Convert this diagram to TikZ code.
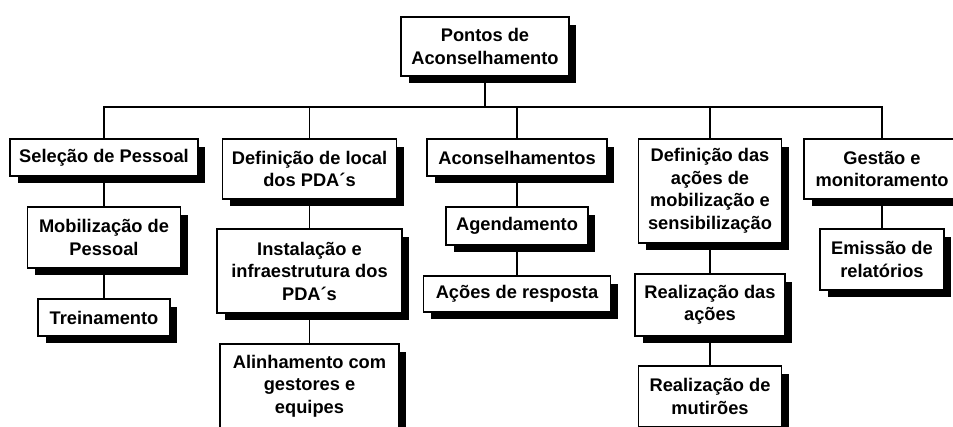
\documentclass[tikz,border=0pt]{standalone}
\usepackage{fontspec}
\setmainfont{Liberation Sans}
\usepackage{tikz}
\usetikzlibrary{shadows}

\begin{document}
\begin{tikzpicture}[x=0.02cm,y=-0.02cm,
  box/.style={rectangle,draw=black,line width=0.7pt,fill=white,align=center,inner sep=1pt,
    font=\bfseries\fontsize{10.4}{12.8}\selectfont,
    drop shadow={shadow xshift=0.15cm,shadow yshift=-0.15cm,fill=black,opacity=1}},
  link/.style={draw=black,line width=0.7pt}]
\clip (0,0) rectangle (953,426);
\node at (485,46.5)[box,minimum width=3.36cm,minimum height=1.18cm](root){Pontos de\\Aconselhamento};
% first level
\node at (104,157.5)[box,minimum width=3.76cm,minimum height=0.74cm](sel){Seleção de Pessoal};
\node at (309.5,169)[box,minimum width=3.48cm,minimum height=1.2cm](def){Definição de local\\dos PDA´s};
\node at (517,157.5)[box,minimum width=3.6cm,minimum height=0.74cm](acon){Aconselhamentos};
\node at (710,191)[box,minimum width=2.86cm,minimum height=2.08cm](defa){Definição das\\ações de\\mobilização e\\sensibilização};
\node at (882,169)[box,minimum width=3.12cm,minimum height=1.2cm](gest){Gestão e\\monitoramento};
% second and third level
\node at (104,237.5)[box,minimum width=3.06cm,minimum height=1.22cm](mob){Mobilização de\\Pessoal};
\node at (104,317.5)[box,minimum width=2.64cm,minimum height=0.74cm](trei){Treinamento};
\node at (309.5,271)[box,minimum width=3.7cm,minimum height=1.68cm](inst){Instalação e\\infraestrutura dos\\PDA´s};
\node at (309.5,386)[box,minimum width=3.58cm,minimum height=1.68cm](alin){Alinhamento com\\gestores e\\equipes};
\node at (517,226)[box,minimum width=2.84cm,minimum height=0.76cm](agen){Agendamento};
\node at (517,294)[box,minimum width=3.74cm,minimum height=0.72cm](resp){Ações de resposta};
\node at (710,305)[box,minimum width=3cm,minimum height=1.24cm](real){Realização das\\ações};
\node at (710,396.5)[box,minimum width=2.86cm,minimum height=1.22cm](mut){Realização de\\mutirões};
\node at (882,259.5)[box,minimum width=2.48cm,minimum height=1.22cm](emis){Emissão de\\relatórios};
% connectors
\coordinate (bus) at (485,107);
\draw[link] (root) -- (bus);
\draw[link] (bus) -| (sel);
\draw[link] (bus) -| (def);
\draw[link] (bus) -| (acon);
\draw[link] (bus) -| (defa);
\draw[link] (bus) -| (gest);
\draw[link] (sel) -- (mob);
\draw[link] (mob) -- (trei);
\draw[link] (def) -- (inst);
\draw[link] (inst) -- (alin);
\draw[link] (acon) -- (agen);
\draw[link] (agen) -- (resp);
\draw[link] (defa) -- (real);
\draw[link] (real) -- (mut);
\draw[link] (gest) -- (emis);
\end{tikzpicture}
\end{document}
